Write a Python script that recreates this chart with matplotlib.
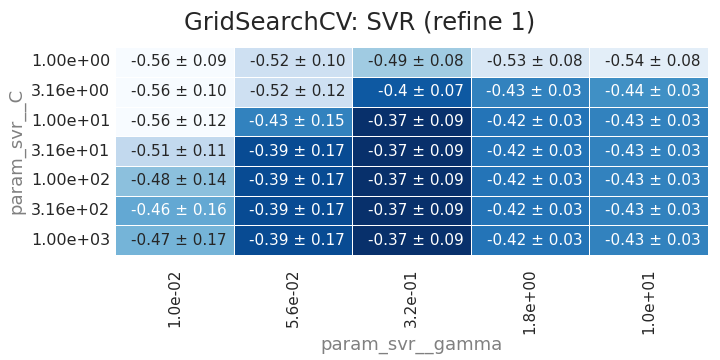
import numpy as np
import pandas as pd
import matplotlib
matplotlib.use("Agg")
import matplotlib.pyplot as plt
import seaborn as sns

# Grid-search results (mean ± std of test score)
c_labels = ["1.00e+00", "3.16e+00", "1.00e+01", "3.16e+01", "1.00e+02", "3.16e+02", "1.00e+03"]
gamma_labels = ["1.0e-02", "5.6e-02", "3.2e-01", "1.8e+00", "1.0e+01"]

mean_scores = [
    [-0.56, -0.52, -0.49, -0.53, -0.54],
    [-0.56, -0.52, -0.40, -0.43, -0.44],
    [-0.56, -0.43, -0.37, -0.42, -0.43],
    [-0.51, -0.39, -0.37, -0.42, -0.43],
    [-0.48, -0.39, -0.37, -0.42, -0.43],
    [-0.46, -0.39, -0.37, -0.42, -0.43],
    [-0.47, -0.39, -0.37, -0.42, -0.43],
]
std_scores = [
    [0.09, 0.10, 0.08, 0.08, 0.08],
    [0.10, 0.12, 0.07, 0.03, 0.03],
    [0.12, 0.15, 0.09, 0.03, 0.03],
    [0.11, 0.17, 0.09, 0.03, 0.03],
    [0.14, 0.17, 0.09, 0.03, 0.03],
    [0.16, 0.17, 0.09, 0.03, 0.03],
    [0.17, 0.17, 0.09, 0.03, 0.03],
]

sns.set_theme(style="white")
plt.rcParams["font.family"] = ["DejaVu Sans"]

df = pd.DataFrame(mean_scores, index=c_labels, columns=gamma_labels)
means = np.array(mean_scores)
stds = np.array(std_scores)

fig, ax = plt.subplots(figsize=(7.2, 3.6), dpi=100)
sns.heatmap(df, cmap="Blues", cbar=False, linewidths=0.6, linecolor="white", ax=ax)

# Annotations, right aligned in each cell (text colour like seaborn's)
cmap = plt.get_cmap("Blues")
vmin, vmax = means.min(), means.max()
for i in range(means.shape[0]):
    for j in range(means.shape[1]):
        rgba = cmap((means[i, j] - vmin) / (vmax - vmin))
        lum = sns.utils.relative_luminance(rgba)
        color = "#262626" if lum > 0.408 else "white"
        ax.text(j + 0.94, i + 0.5, f"{means[i, j]:g} ± {stds[i, j]:.2f}",
                ha="right", va="center", color=color, fontsize=11)

ax.set_xlabel("param_svr__gamma", fontsize=13, color="grey", labelpad=1)
ax.set_ylabel("param_svr__C", fontsize=13, color="grey")
ax.tick_params(axis="x", rotation=90, labelsize=11, length=0, pad=10)
ax.tick_params(axis="y", rotation=0, labelsize=11.5, length=0, pad=3.5)
fig.suptitle("GridSearchCV: SVR (refine 1)", fontsize=17.5, y=0.97)

fig.subplots_adjust(left=0.16, right=0.983, top=0.869, bottom=0.292)
plt.savefig("out.png", dpi=100)
plt.close()
